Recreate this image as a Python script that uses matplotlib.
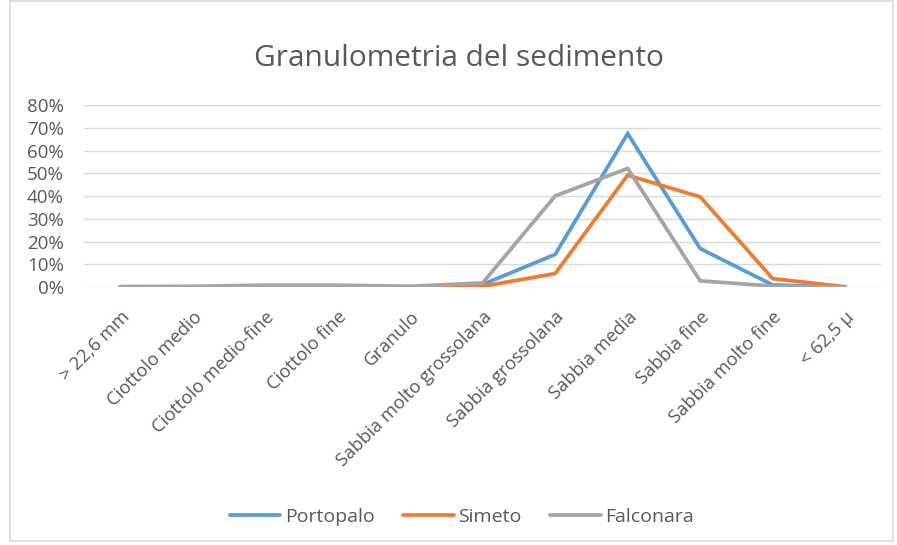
import matplotlib
matplotlib.use("Agg")
import matplotlib.pyplot as plt
from matplotlib.ticker import PercentFormatter
from matplotlib.patches import Rectangle

categories = [
    "> 22,6 mm", "Ciottolo medio", "Ciottolo medio-fine", "Ciottolo fine",
    "Granulo", "Sabbia molto grossolana", "Sabbia grossolana", "Sabbia media",
    "Sabbia fine", "Sabbia molto fine", "< 62,5 µ",
]
portopalo = [0.0, 0.0, 0.0, 0.0, 0.0, 0.012, 0.144, 0.675, 0.17, 0.01, 0.0]
simeto = [0.0, 0.0, 0.0, 0.0, 0.0, 0.004, 0.06, 0.492, 0.397, 0.038, 0.002]
falconara = [0.003, 0.004, 0.009, 0.009, 0.004, 0.019, 0.401, 0.522, 0.028, 0.005, 0.0]

series = [("Portopalo", portopalo, "#5B9BD5"),
          ("Simeto", simeto, "#ED7D31"),
          ("Falconara", falconara, "#A5A5A5")]

plt.rcParams["font.family"] = ["Open Sans", "DejaVu Sans"]
text_color = "#595959"

fig = plt.figure(figsize=(8.97, 5.45), dpi=100)
fig.patches.append(Rectangle((0.011, 0.008), 0.984, 0.99, transform=fig.transFigure,
                             fill=False, edgecolor="#D9D9D9", linewidth=1.2))
ax = fig.add_axes([0.0936, 0.473, 0.889, 0.334])

x = list(range(len(categories)))
for name, vals, color in series:
    ax.plot(x, vals, color=color, linewidth=2.7, label=name, solid_capstyle="round",
            solid_joinstyle="miter")

ax.set_xlim(-0.5, len(categories) - 0.5)
ax.set_ylim(0, 0.8)
ax.set_yticks([i / 10 for i in range(9)])
ax.yaxis.set_major_formatter(PercentFormatter(1.0, decimals=0))
ax.grid(axis="y", color="#D9D9D9", linewidth=1)
ax.set_axisbelow(True)
for s in ax.spines.values():
    s.set_visible(False)
ax.tick_params(axis="both", length=0, colors=text_color)
ax.tick_params(axis="y", pad=14.4, labelsize=13.5)
ax.set_xticks(x)
ax.set_xticklabels(categories, rotation=45, ha="right", va="top",
                   rotation_mode="anchor", fontsize=13.2, color=text_color)
ax.tick_params(axis="x", pad=15)

fig.text(0.512, 0.893, "Granulometria del sedimento", ha="center", va="center",
         fontsize=21.5, color=text_color)

fig.legend(loc="center", bbox_to_anchor=(0.515, 0.051), ncol=3, frameon=False,
           fontsize=14, labelcolor=text_color, handlelength=2.6,
           handletextpad=0.25, columnspacing=1.45)

fig.savefig("out.png", dpi=100)
